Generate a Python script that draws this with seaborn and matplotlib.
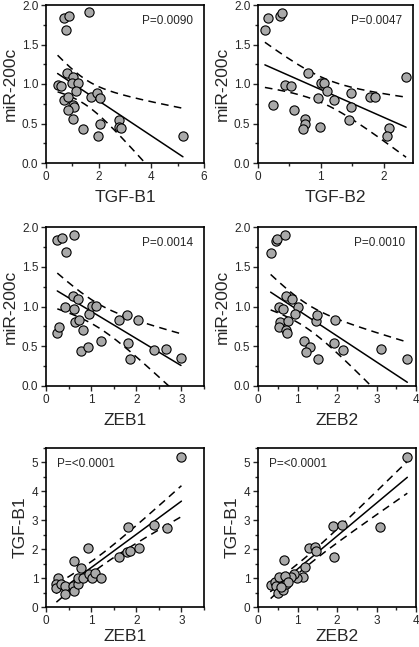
import numpy as np
import pandas as pd
import matplotlib
matplotlib.use("Agg")
import matplotlib.pyplot as plt
from matplotlib.ticker import MultipleLocator
import seaborn as sns

# --------------------------------------------------
# Data
# --------------------------------------------------

# panel 1: TGF-B1 vs miR-200c
tgfb1_a = [0.67, 0.87, 0.76, 1.63, 0.44, 0.57, 0.78, 1.01, 1.00, 1.20, 1.13, 0.68, 0.84, 1.01,
           1.06, 0.84, 1.03, 1.39, 1.72, 1.94, 2.06, 2.05, 1.97, 2.78, 2.77, 2.85, 5.20]
mir_a = [1.84, 1.86, 1.68, 1.91, 0.99, 0.97, 1.14, 1.09, 1.01, 1.01, 0.91, 0.80, 0.83, 0.74,
         0.71, 0.67, 0.56, 0.43, 0.83, 0.89, 0.82, 0.49, 0.34, 0.54, 0.46, 0.44, 0.34]

# panel 2: TGF-B2 vs miR-200c
tgfb2_b = [0.11, 0.16, 0.35, 0.39, 0.24, 0.43, 0.52, 0.57, 0.80, 0.75, 0.75, 0.72, 0.95,
           0.99, 1.00, 1.05, 1.10, 1.21, 1.45, 1.48, 1.48, 1.79, 1.87, 2.09, 2.05, 2.36]
mir_b = [1.68, 1.84, 1.86, 1.90, 0.74, 0.99, 0.97, 0.67, 1.14, 0.56, 0.49, 0.43, 0.82,
         0.46, 1.01, 1.01, 0.91, 0.80, 0.54, 0.89, 0.71, 0.83, 0.83, 0.44, 0.34, 1.09]

# panel 3: ZEB1 vs miR-200c
zeb1_c = [0.25, 0.35, 0.44, 0.63, 0.25, 0.28, 0.43, 0.60, 0.71, 0.63, 0.65, 0.72, 0.83, 0.78,
          0.92, 0.96, 1.01, 1.10, 1.22, 1.61, 1.79, 1.81, 1.85, 2.04, 2.40, 2.66, 2.99]
mir_c = [1.84, 1.86, 1.68, 1.90, 0.67, 0.74, 1.00, 1.13, 1.10, 0.97, 0.81, 0.83, 0.71, 0.44,
         0.49, 0.91, 1.01, 1.01, 0.56, 0.83, 0.89, 0.54, 0.34, 0.83, 0.45, 0.47, 0.35]

# panel 4: ZEB2 vs miR-200c
zeb2_d = [0.32, 0.46, 0.49, 0.69, 0.71, 0.87, 0.53, 0.64, 1.01, 0.93, 0.56, 0.75, 0.54,
          0.71, 0.74, 1.16, 1.31, 1.22, 1.51, 1.47, 1.50, 1.95, 1.92, 2.14, 3.12, 3.78]
mir_d = [1.67, 1.83, 1.85, 1.90, 1.13, 1.10, 0.99, 0.97, 1.00, 0.90, 0.81, 0.82, 0.74,
         0.71, 0.67, 0.56, 0.49, 0.43, 0.34, 0.82, 0.89, 0.83, 0.54, 0.45, 0.47, 0.34]

# panel 5: ZEB1 vs TGF-B1
zeb1_e = [3.00, 1.81, 2.40, 2.67, 0.92, 0.62, 0.77, 1.62, 1.79, 1.85, 2.05, 0.26, 0.23,
          0.23, 0.34, 0.42, 0.42, 0.60, 0.63, 0.71, 0.71, 0.81, 0.95, 1.01, 1.09, 1.21]
tgfb1_e = [5.20, 2.78, 2.82, 2.74, 2.03, 1.60, 1.36, 1.72, 1.89, 1.95, 2.05, 0.99, 0.79,
           0.65, 0.81, 0.73, 0.44, 0.74, 0.56, 0.79, 1.00, 1.01, 1.14, 1.01, 1.18, 1.01]

# panel 6: ZEB2 vs TGF-B1
zeb2_f = [3.78, 3.10, 1.90, 2.13, 1.93, 1.29, 1.44, 1.47, 0.66, 1.20, 1.15, 0.98, 0.92,
          0.84, 0.32, 0.44, 0.52, 0.46, 0.51, 0.63, 0.69, 0.70, 0.76, 0.57]
tgfb1_f = [5.20, 2.77, 2.80, 2.83, 1.73, 2.05, 2.06, 1.95, 1.64, 1.38, 1.04, 1.01, 1.13,
           1.04, 0.77, 0.86, 1.03, 0.71, 0.48, 0.58, 1.08, 0.80, 0.85, 0.70]

p_labels = ["P=0.0090", "P=0.0047", "P=0.0014", "P=0.0010", "P=<0.0001", "P=<0.0001"]

# --------------------------------------------------
# Helpers
# --------------------------------------------------

def t975(dof):
    # Cornish-Fisher expansion of the two-sided 95% t quantile
    z = 1.959964
    return (z + (z**3 + z) / (4 * dof)
            + (5 * z**5 + 16 * z**3 + 3 * z) / (96 * dof**2)
            + (3 * z**7 + 19 * z**5 + 17 * z**3 - 15 * z) / (384 * dof**3))


def regression_with_ci(x, y):
    x = np.asarray(x, float)
    y = np.asarray(y, float)
    n = len(x)
    slope, icpt = np.polyfit(x, y, 1)
    resid = y - (slope * x + icpt)
    s = np.sqrt(np.sum(resid**2) / (n - 2))
    sxx = np.sum((x - x.mean())**2)
    xs = np.linspace(x.min(), x.max(), 200)
    fit = slope * xs + icpt
    half = t975(n - 2) * s * np.sqrt(1.0 / n + (xs - x.mean())**2 / sxx)
    return xs, fit, fit - half, fit + half


def draw_panel(ax, x, y, xlabel, ylabel, xlim, xmaj, ylim, ymaj, ptext, pleft, xpad=5):
    df = pd.DataFrame({"x": x, "y": y})
    xs, fit, lo, hi = regression_with_ci(x, y)
    ax.plot(xs, fit, color="black", lw=1.1, zorder=2)
    ax.plot(xs, lo, color="black", lw=1.1, ls=(0, (5, 3.5)), zorder=2)
    ax.plot(xs, hi, color="black", lw=1.1, ls=(0, (5, 3.5)), zorder=2)
    sns.scatterplot(data=df, x="x", y="y", ax=ax, color="#a9a9a9",
                    edgecolor="black", linewidth=0.8, s=44, zorder=3, legend=False)
    ax.set_xlim(*xlim)
    ax.set_ylim(*ylim)
    ax.xaxis.set_major_locator(MultipleLocator(xmaj))
    ax.xaxis.set_minor_locator(MultipleLocator(xmaj / 2))
    ax.yaxis.set_major_locator(MultipleLocator(ymaj))
    ax.yaxis.set_minor_locator(MultipleLocator(ymaj / 2))
    ax.tick_params(which="major", direction="out", length=3.5, width=1,
                   labelsize=8.5, pad=2, top=False, right=False)
    ax.tick_params(which="minor", direction="out", length=2, width=1,
                   top=False, right=False)
    ax.set_xlabel(xlabel, fontsize=12.5, labelpad=xpad)
    ax.set_ylabel(ylabel, fontsize=12.5, labelpad=3)
    for sp in ax.spines.values():
        sp.set_visible(True)
        sp.set_linewidth(1.2)
        sp.set_color("black")
    if pleft:
        ax.text(0.07, 0.90, ptext, transform=ax.transAxes, ha="left",
                va="center", fontsize=8.5)
    else:
        ax.text(0.93, 0.90, ptext, transform=ax.transAxes, ha="right",
                va="center", fontsize=8.5)


# --------------------------------------------------
# Figure
# --------------------------------------------------

sns.set_style("ticks")
plt.rcParams["font.family"] = ["Liberation Sans", "DejaVu Sans"]

W, H = 419, 647
fig = plt.figure(figsize=(W / 100, H / 100), dpi=100)


def px_axes(left, right, top, bottom):
    return fig.add_axes([left / W, 1 - bottom / H, (right - left) / W, (bottom - top) / H])


ax1 = px_axes(46, 204, 5, 163)
ax2 = px_axes(258, 413, 5, 163)
ax3 = px_axes(46, 204, 227, 386)
ax4 = px_axes(258, 416, 227, 386)
ax5 = px_axes(46, 204, 448, 607)
ax6 = px_axes(258, 416, 448, 607)

draw_panel(ax1, tgfb1_a, mir_a, "TGF-B1", "miR-200c", (0, 6), 2, (0, 2), 0.5, p_labels[0], False)
draw_panel(ax2, tgfb2_b, mir_b, "TGF-B2", "miR-200c", (0, 2.47), 1, (0, 2), 0.5, p_labels[1], False)
draw_panel(ax3, zeb1_c, mir_c, "ZEB1", "miR-200c", (0, 3.5), 1, (0, 2), 0.5, p_labels[2], False)
draw_panel(ax4, zeb2_d, mir_d, "ZEB2", "miR-200c", (0, 4), 1, (0, 2), 0.5, p_labels[3], False)
draw_panel(ax5, zeb1_e, tgfb1_e, "ZEB1", "TGF-B1", (0, 3.5), 1, (0, 5.5), 1, p_labels[4], True, xpad=2)
draw_panel(ax6, zeb2_f, tgfb1_f, "ZEB2", "TGF-B1", (0, 4), 1, (0, 5.5), 1, p_labels[5], True, xpad=2)

fig.savefig("out.png", dpi=100)
